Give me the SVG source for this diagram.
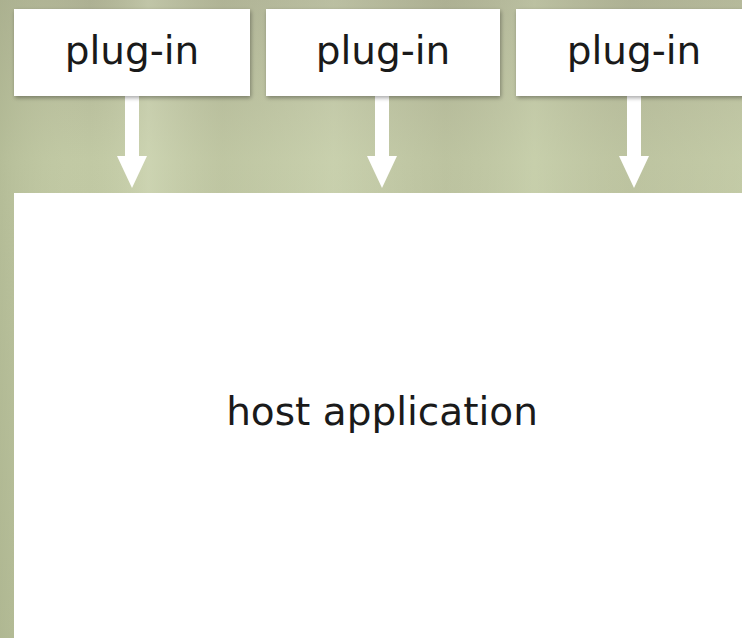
<svg xmlns="http://www.w3.org/2000/svg" width="742" height="638" viewBox="0 0 742 638">
<style>
.box{fill:#ffffff;}
.lbl{font-family:"DejaVu Sans","Liberation Sans",sans-serif;font-size:39px;fill:#1a1a1a;text-anchor:middle;}
.arrow{fill:#ffffff;}
</style>
<defs>
<linearGradient id="bgv" x1="0" y1="0" x2="0" y2="1">
<stop offset="0" stop-color="#adb093"/>
<stop offset="0.25" stop-color="#c1c9a4"/>
<stop offset="1" stop-color="#b6be98"/>
</linearGradient>
<linearGradient id="bgh" x1="0" y1="0" x2="1" y2="0">
<stop offset="0" stop-color="#a9b18c" stop-opacity="0.5"/>
<stop offset="0.12" stop-color="#c9d0ab" stop-opacity="0"/>
<stop offset="0.2" stop-color="#dde4c6" stop-opacity="0.4"/>
<stop offset="0.3" stop-color="#b8bd9d" stop-opacity="0.25"/>
<stop offset="0.45" stop-color="#dae1c3" stop-opacity="0.3"/>
<stop offset="0.6" stop-color="#aeb194" stop-opacity="0.25"/>
<stop offset="0.72" stop-color="#d0d8b6" stop-opacity="0.4"/>
<stop offset="0.85" stop-color="#b1b496" stop-opacity="0.25"/>
<stop offset="1" stop-color="#c9cfad" stop-opacity="0.3"/>
</linearGradient>
<filter id="sh" x="-5%" y="-5%" width="112%" height="120%">
<feGaussianBlur in="SourceAlpha" stdDeviation="2"/>
<feOffset dx="1" dy="2"/>
<feComponentTransfer><feFuncA type="linear" slope="0.35"/></feComponentTransfer>
<feMerge><feMergeNode/><feMergeNode in="SourceGraphic"/></feMerge>
</filter>
</defs>
<rect x="0" y="0" width="742" height="638" fill="url(#bgv)"/>
<rect x="0" y="0" width="742" height="638" fill="url(#bgh)"/>
<g id="connectors">
<path class="arrow" d="M125,96 H139 V156 H147 L132,188 L117,156 H125 Z"/>
<path class="arrow" d="M375,96 H389 V156 H397 L382,188 L367,156 H375 Z"/>
<path class="arrow" d="M627,96 H641 V156 H649 L634,188 L619,156 H627 Z"/>
</g>
<g id="plugin1">
<rect class="box" x="14" y="9" width="236" height="87" filter="url(#sh)"/>
<text class="lbl" x="132" y="64">plug-in</text>
</g>
<g id="plugin2">
<rect class="box" x="266" y="9" width="234" height="87" filter="url(#sh)"/>
<text class="lbl" x="383" y="64">plug-in</text>
</g>
<g id="plugin3">
<rect class="box" x="516" y="9" width="232" height="87" filter="url(#sh)"/>
<text class="lbl" x="634" y="64">plug-in</text>
</g>
<g id="host">
<rect class="box" x="14" y="193" width="734" height="450" fill="#fdfdfc"/>
<text class="lbl" x="382" y="425">host application</text>
</g>
</svg>
